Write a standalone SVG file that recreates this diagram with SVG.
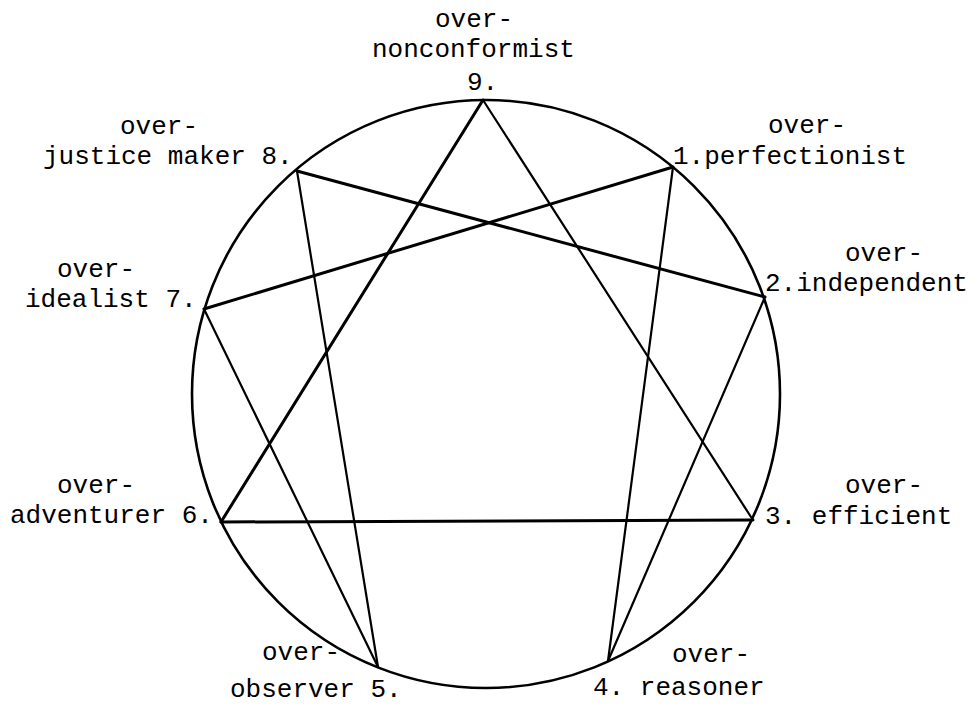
<svg xmlns="http://www.w3.org/2000/svg" width="976" height="706" viewBox="0 0 976 706">
<style>
  text { font-family: "Liberation Mono", "DejaVu Sans Mono", monospace; font-size: 26px; fill: #000; }
  .ring { fill: none; stroke: #000; stroke-width: 2.6; }
  .ln { stroke: #000; stroke-width: 2.2; stroke-linecap: round; fill: none; }
  .hv { stroke-width: 3; }
</style>
<rect width="976" height="706" fill="#fff"/>
<circle class="ring" cx="486" cy="394" r="294"/>
<g id="connectors">
  <line class="ln" x1="483" y1="100" x2="751" y2="517"/>
  <line class="ln hv" x1="483" y1="100" x2="221" y2="522"/>
  <line class="ln hv" x1="221" y1="522" x2="753" y2="520"/>
  <line class="ln" x1="673" y1="167" x2="608" y2="661"/>
  <line class="ln hv" x1="673" y1="167" x2="204" y2="309"/>
  <line class="ln hv" x1="297" y1="171" x2="765" y2="297"/>
  <line class="ln" x1="297" y1="171" x2="378" y2="667"/>
  <line class="ln" x1="204" y1="309" x2="378" y2="667"/>
  <line class="ln" x1="765" y1="297" x2="608" y2="661"/>
</g>
<g id="node-9">
  <text x="435" y="27">over-</text>
  <text x="372" y="57">nonconformist</text>
  <text x="467" y="90">9.</text>
</g>
<g id="node-8">
  <text x="120" y="134">over-</text>
  <text x="43" y="164">justice maker 8.</text>
</g>
<g id="node-1">
  <text x="768" y="133">over-</text>
  <text x="673" y="164">1.perfectionist</text>
</g>
<g id="node-7">
  <text x="57" y="277">over-</text>
  <text x="25" y="307">idealist 7.</text>
</g>
<g id="node-2">
  <text x="845" y="261">over-</text>
  <text x="765" y="291">2.independent</text>
</g>
<g id="node-6">
  <text x="57" y="493">over-</text>
  <text x="10" y="523">adventurer 6.</text>
</g>
<g id="node-3">
  <text x="845" y="493">over-</text>
  <text x="765" y="524">3. efficient</text>
</g>
<g id="node-5">
  <text x="262" y="660">over-</text>
  <text x="230" y="697">observer 5.</text>
</g>
<g id="node-4">
  <text x="672" y="662">over-</text>
  <text x="593" y="695">4. reasoner</text>
</g>
</svg>
